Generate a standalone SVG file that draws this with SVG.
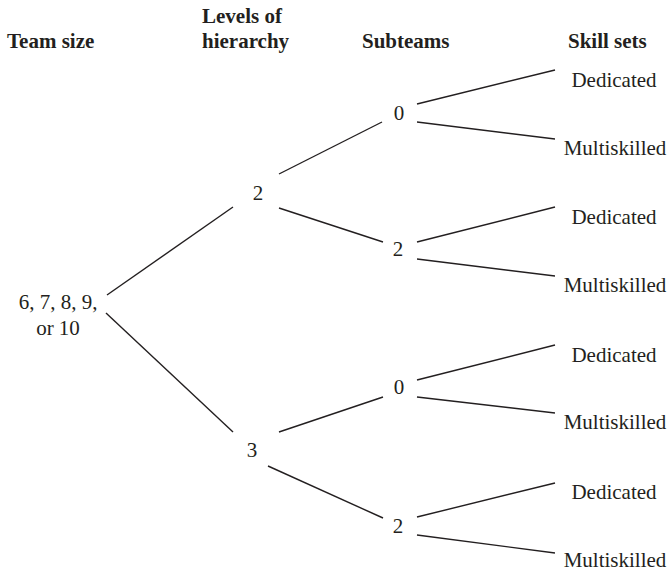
<svg xmlns="http://www.w3.org/2000/svg" width="668" height="574" viewBox="0 0 668 574">
<style>
text{font-family:"Liberation Serif","Times New Roman",serif;fill:#231f20;font-size:21px}
.h{font-weight:bold}
.n{text-anchor:middle}
.c line{stroke:#231f20;stroke-width:1.4}
</style>
<rect width="668" height="574" fill="#fff"/>
<g id="headers">
<text class="h" x="7" y="48">Team size</text>
<text class="h" x="202" y="23">Levels of</text>
<text class="h" x="202" y="48">hierarchy</text>
<text class="h" x="362" y="48">Subteams</text>
<text class="h" x="568" y="48">Skill sets</text>
</g>
<g class="c" id="connectors">
<line x1="107" y1="295" x2="233" y2="207"/>
<line x1="106" y1="313" x2="233" y2="432"/>
<line x1="279" y1="174" x2="382" y2="122"/>
<line x1="279" y1="208" x2="383" y2="242"/>
<line x1="279" y1="432" x2="383" y2="397"/>
<line x1="268" y1="466" x2="383" y2="518"/>
<line x1="417" y1="104" x2="555" y2="70"/>
<line x1="417" y1="122" x2="555" y2="139"/>
<line x1="417" y1="242" x2="555" y2="207"/>
<line x1="417" y1="259" x2="555" y2="276"/>
<line x1="417" y1="380" x2="555" y2="345"/>
<line x1="417" y1="397" x2="555" y2="413"/>
<line x1="417" y1="517" x2="555" y2="483"/>
<line x1="417" y1="535" x2="555" y2="553"/>
</g>
<g id="n-team"><text class="n" x="58" y="309">6, 7, 8, 9,</text><text class="n" x="58" y="335">or 10</text></g>
<g id="n-l2"><text class="n" x="258" y="200">2</text></g>
<g id="n-l3"><text class="n" x="252" y="457">3</text></g>
<g id="n-s1"><text class="n" x="399" y="120">0</text></g>
<g id="n-s2"><text class="n" x="398" y="256">2</text></g>
<g id="n-s3"><text class="n" x="399" y="394">0</text></g>
<g id="n-s4"><text class="n" x="398" y="533">2</text></g>
<g id="n-d1"><text class="n" x="614" y="87">Dedicated</text></g>
<g id="n-m1"><text class="n" x="615" y="155">Multiskilled</text></g>
<g id="n-d2"><text class="n" x="614" y="224">Dedicated</text></g>
<g id="n-m2"><text class="n" x="615" y="292">Multiskilled</text></g>
<g id="n-d3"><text class="n" x="614" y="362">Dedicated</text></g>
<g id="n-m3"><text class="n" x="615" y="429">Multiskilled</text></g>
<g id="n-d4"><text class="n" x="614" y="499">Dedicated</text></g>
<g id="n-m4"><text class="n" x="615" y="567">Multiskilled</text></g>
</svg>
